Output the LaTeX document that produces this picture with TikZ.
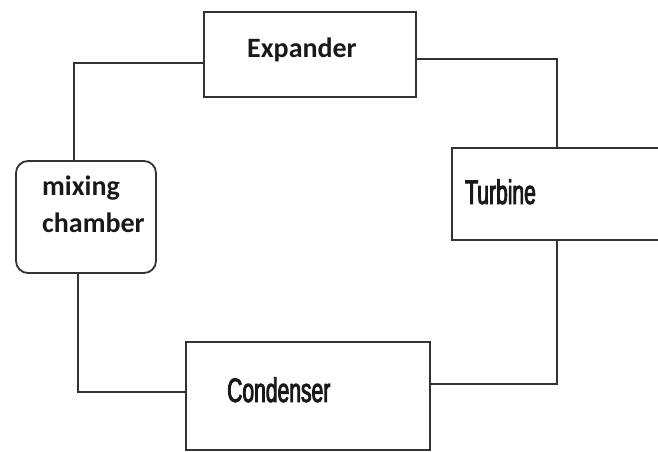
\documentclass[tikz,border=0pt]{standalone}
\usepackage{fontspec}
\setmainfont{Carlito}
\newfontfamily\condfont[FakeStretch=0.62,FakeBold=2.5]{Liberation Sans}
\begin{document}
\begin{tikzpicture}[x=1pt,y=-1pt,
  boxline/.style={draw=black!80,line width=1.8pt},
  unitbox/.style={boxline,rectangle,inner sep=0pt},
  wire/.style={draw=black!80,line width=1.8pt},
  lblA/.style={font=\fontsize{28}{36}\selectfont\bfseries,inner sep=0pt,anchor=base west,text=black!90},
  lblB/.style={font=\fontsize{34}{36}\selectfont\condfont,inner sep=0pt,anchor=base west,text=black!90}]
\useasboundingbox (0,0) rectangle (658,452);
\node[unitbox,minimum width=212pt,minimum height=85pt] (exp) at (310,54.5) {};
\node[unitbox,minimum width=216pt,minimum height=92pt] (turb) at (560,194) {};
\node[unitbox,rounded corners=12pt,minimum width=140pt,minimum height=112pt] (mix) at (86,217) {};
\node[unitbox,minimum width=244pt,minimum height=108pt] (cond) at (308,396) {};
\node[lblA] (expL) at (247,57) {Expander};
\node[lblB] (turbL) at (465,204) {Turbine};
\node[lblB] (condL) at (227,402) {Condenser};
\node[lblA] (mixL1) at (42,195) {mixing};
\node[lblA] (mixL2) at (42,232) {chamber};
\draw[wire] ([yshift=-8.5pt]exp.west) -| ([xshift=-12pt]mix.north);
\draw[wire] ([yshift=-4.5pt]exp.east) -| ([xshift=-3pt]turb.north);
\draw[wire] ([xshift=-3pt]turb.south) |- ([yshift=12pt]cond.east);
\draw[wire] ([xshift=-8pt]mix.south) |- ([yshift=4pt]cond.west);
\end{tikzpicture}
\end{document}
